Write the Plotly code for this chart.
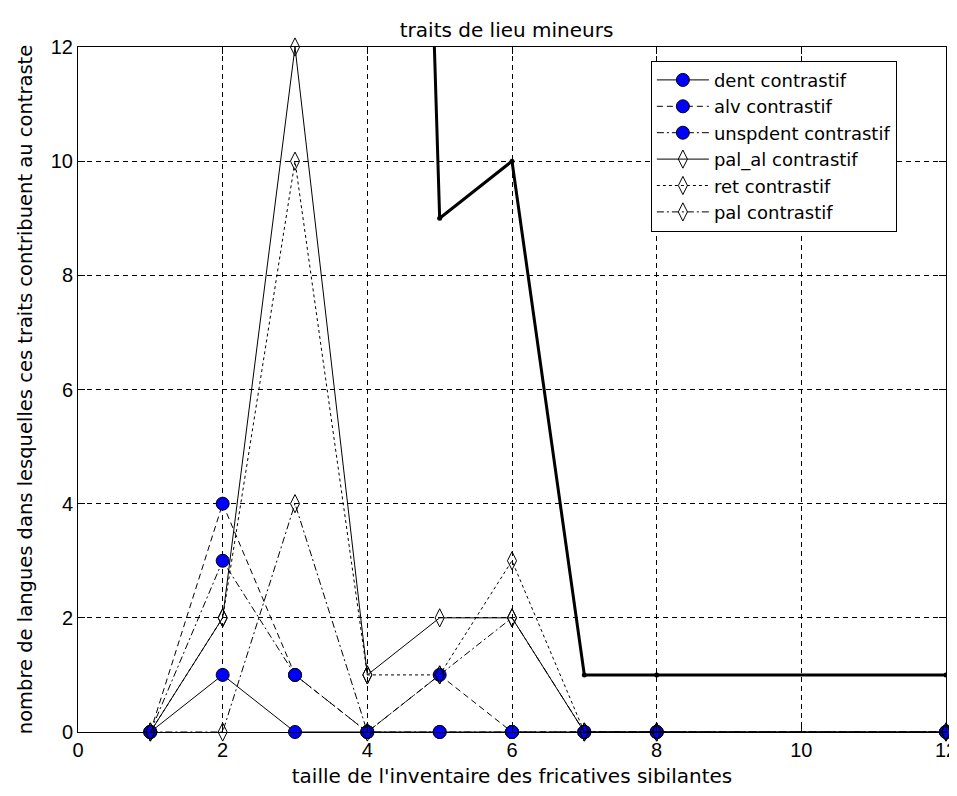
import plotly.graph_objects as go

# taille de l'inventaire (x) et nombre de langues par trait (y)
taille = [1, 2, 3, 4, 5, 6, 7, 8, 12]
dent = [0, 1, 0, 0, 0, 0, 0, 0, 0]
alv = [0, 4, 1, 0, 1, 0, 0, 0, 0]
unspdent = [0, 3, 1, 0, 0, 0, 0, 0, 0]
pal_al = [0, 2, 12, 1, 2, 2, 0, 0, 0]
ret = [0, 2, 10, 1, 1, 3, 0, 0, 0]
pal = [0, 0, 4, 0, 1, 2, 0, 0, 0]

# courbe épaisse (hors légende)
total_x = [4, 5, 6, 7, 8, 12]
total = [50, 9, 10, 1, 1, 1]

police = 'DejaVu Sans, Verdana, sans-serif'
police_ticks = 'Liberation Sans, Arial, sans-serif'

series = [
    ('dent contrastif', dent, 'solid', 'circle', '#0000ff'),
    ('alv contrastif', alv, '6px,4px', 'circle', '#0000ff'),
    ('unspdent contrastif', unspdent, '7px,3px,2px,3px', 'circle', '#0000ff'),
    ('pal_al contrastif', pal_al, 'solid', 'diamond-tall-open', 'black'),
    ('ret contrastif', ret, '3px,3px', 'diamond-tall-open', 'black'),
    ('pal contrastif', pal, '7px,3px,2px,3px', 'diamond-tall-open', 'black'),
]

fig = go.Figure()

fig.add_trace(go.Scatter(
    x=total_x, y=total, mode='lines+markers', showlegend=False,
    line=dict(color='black', width=3),
    marker=dict(color='black', size=5),
    cliponaxis=True, hoverinfo='skip'
))

for nom, vals, dash, symb, coul in series:
    if symb == 'circle':
        mk = dict(symbol=symb, size=13, color=coul, line=dict(color='black', width=1))
    else:
        mk = dict(symbol=symb, size=13, color='black', line=dict(color='black', width=1))
    fig.add_trace(go.Scatter(
        x=taille, y=vals, name=nom, mode='lines+markers',
        line=dict(color='black', width=1, dash=dash),
        marker=mk, cliponaxis=False
    ))

axe = dict(
    range=[0, 12], dtick=2, tick0=0, automargin=False,
    showline=True, linecolor='black', linewidth=1, mirror='ticks',
    ticks='inside', ticklen=7, tickcolor='black',
    showgrid=True, gridcolor='black', gridwidth=1, griddash='5px,4px',
    zeroline=False, tickfont=dict(size=20, color='black', family=police_ticks),
)

# la page html ajoute 8px de marge (body) en haut et à gauche
fig.update_layout(
    width=957, height=796,
    margin=dict(l=70, r=19, t=39, b=72),
    paper_bgcolor='white', plot_bgcolor='white',
    font=dict(family=police, size=20, color='black'),
    title=dict(text='traits de lieu mineurs', x=0.521, xanchor='center', y=0.972, yanchor='middle',
               font=dict(size=20)),
    xaxis=dict(axe, title=dict(text="taille de l'inventaire des fricatives sibilantes", standoff=8,
                               font=dict(size=20))),
    yaxis=dict(axe, title=dict(text='nombre de langues dans lesquelles ces traits contribuent au contraste',
                               standoff=12, font=dict(size=19.5))),
    legend=dict(x=0.66, y=0.98, xanchor='left', yanchor='top',
                bgcolor='white', bordercolor='black', borderwidth=1,
                font=dict(size=18), tracegroupgap=0, itemwidth=52),
    showlegend=True,
)

fig.write_html('out.html')
